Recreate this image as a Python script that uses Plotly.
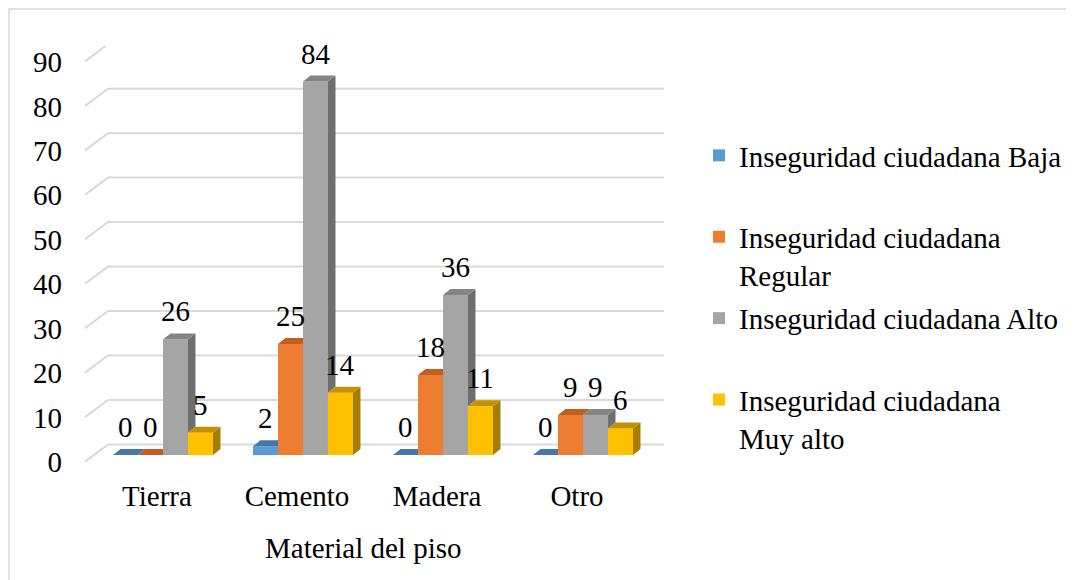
import plotly.graph_objects as go

categories = ["Tierra", "Cemento", "Madera", "Otro"]
baja = [0, 2, 0, 0]
regular = [0, 25, 18, 9]
alto = [26, 84, 36, 9]
muy_alto = [5, 14, 11, 6]

series = [baja, regular, alto, muy_alto]
series_names = [
    "Inseguridad ciudadana Baja<br> ",
    "Inseguridad ciudadana<br>Regular",
    "Inseguridad ciudadana Alto<br> ",
    "Inseguridad ciudadana<br>Muy alto",
]
y_ticks = list(range(0, 100, 10))

FONT = "Liberation Serif, Times New Roman, serif"
FSIZE = 29
front_colors = ["#5B9BD5", "#ED7D31", "#A5A5A5", "#FFC000"]
top_colors = ["#4677AA", "#C25E1F", "#858585", "#C39200"]
side_colors = ["#3B6894", "#A84E17", "#6E6E6E", "#A67D00"]

# page body adds an 8px margin, so screen positions are figure positions + 8
OFF = 8
W, H = 1074, 580
L, R, T, B = 79 - OFF, 667 - OFF, 46 - OFF, 464 - OFF
X_RANGE = [-0.6, 3.6]
Y_RANGE = [-2, 92]
ppx = (R - L) / (X_RANGE[1] - X_RANGE[0])
ppy = (B - T) / (Y_RANGE[1] - Y_RANGE[0])


def paper_x(p):
    return (p - OFF - L) / (R - L)


def paper_y(p):
    return (B - (p - OFF)) / (B - T)


def data_x(p):
    return X_RANGE[0] + (p - OFF - L) / ppx


BARGAP = 0.286
bw = (1 - BARGAP) / len(series)
DX = 7.5 / ppx   # depth of the 3D faces
DY = 6.0 / ppy

xs = list(range(len(categories)))

fig = go.Figure()
for name, vals, col in zip(series_names, series, front_colors):
    fig.add_trace(go.Bar(
        x=xs, y=vals, name=name, legendgroup=name,
        marker=dict(color=col, line=dict(width=0)),
        hoverinfo="skip",
    ))

shapes = []
# back-wall gridlines with the floor diagonal
fx, bx, rx = data_x(85), data_x(108), data_x(664)
for v in y_ticks:
    shapes.append(dict(
        type="path", xref="x", yref="y", layer="below",
        path=f"M{fx},{v - 6.5 / ppy} L{bx},{v + 10.7 / ppy} L{rx},{v + 10.7 / ppy}",
        line=dict(color="#D9D9D9", width=2),
    ))

annotations = []
for ci in xs:
    vals = [s[ci] for s in series]
    for i, v in enumerate(vals):
        nxt = vals[i + 1] if i + 1 < len(vals) else None
        xl = ci - (1 - BARGAP) / 2 + i * bw
        xr = xl + bw
        base = nxt if nxt is not None else 0
        if v > base:
            shapes.append(dict(
                type="path", xref="x", yref="y", layer="above",
                path=f"M{xr},{base} L{xr},{v} L{xr + DX},{v + DY} L{xr + DX},{base + DY} Z",
                fillcolor=side_colors[i], line=dict(width=0),
            ))
        if nxt is not None and nxt > v:
            path = f"M{xl},{v} L{xr},{v} L{xr},{v + DY} L{xl + DX},{v + DY} Z"
        else:
            path = f"M{xl},{v} L{xr},{v} L{xr + DX},{v + DY} L{xl + DX},{v + DY} Z"
        shapes.append(dict(
            type="path", xref="x", yref="y", layer="above",
            path=path, fillcolor=top_colors[i], line=dict(width=0),
        ))
        annotations.append(dict(
            x=xl + bw / 2, y=v, xref="x", yref="y", text=str(v),
            showarrow=False, yanchor="bottom", yshift=10,
            font=dict(family=FONT, size=FSIZE, color="#000000"),
        ))

# x axis title
annotations.append(dict(
    x=paper_x(363.5), y=paper_y(548), xref="paper", yref="paper",
    text="Material del piso", showarrow=False, xanchor="center", yanchor="middle",
    font=dict(family=FONT, size=FSIZE, color="#000000"),
))

# outer chart border
shapes.append(dict(
    type="rect", xref="paper", yref="paper", layer="below",
    x0=paper_x(9), x1=paper_x(1090), y0=paper_y(600), y1=paper_y(9),
    line=dict(color="#D9D9D9", width=1.5), fillcolor="rgba(0,0,0,0)",
))

fig.update_layout(
    width=W, height=H,
    margin=dict(l=L, r=W - R, t=T, b=H - B, pad=0, autoexpand=False),
    paper_bgcolor="white", plot_bgcolor="white",
    font=dict(family=FONT, size=FSIZE, color="#000000"),
    barmode="group", bargap=BARGAP, bargroupgap=0,
    showlegend=True,
    legend=dict(
        x=paper_x(699), xanchor="left", y=paper_y(130), yanchor="top",
        font=dict(family=FONT, size=FSIZE, color="#000000"),
        tracegroupgap=3, valign="top", traceorder="grouped",
        bgcolor="rgba(0,0,0,0)",
    ),
    shapes=shapes,
    annotations=annotations,
)
fig.update_xaxes(
    range=X_RANGE, tickvals=xs, ticktext=categories, automargin=False,
    showgrid=False, zeroline=False, showline=False, ticks="",
    ticklabelshift=-6, ticklabelstandoff=12,
)
fig.update_yaxes(
    range=Y_RANGE, tickvals=y_ticks, automargin=False,
    showgrid=False, zeroline=False, showline=False, ticks="",
    ticklabelshift=7, ticklabelstandoff=16,
)

fig.write_html("out.html")
